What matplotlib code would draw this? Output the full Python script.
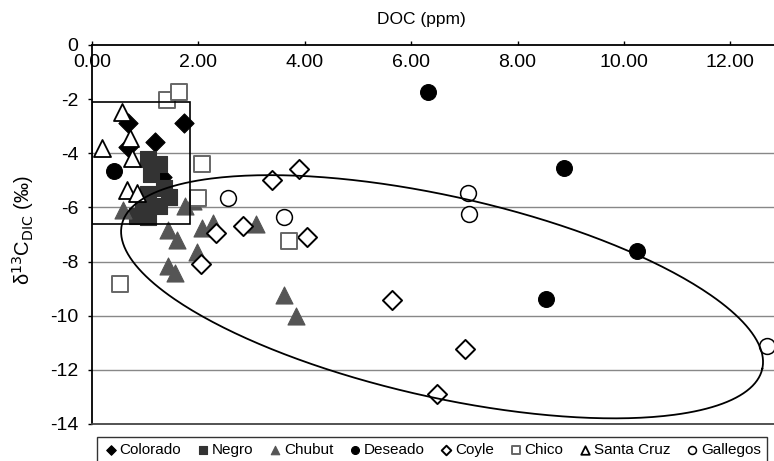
import numpy as np
import matplotlib
matplotlib.use("Agg")
import matplotlib.pyplot as plt
from matplotlib.patches import Rectangle

plt.rcParams['font.family'] = ['Liberation Sans', 'DejaVu Sans']

# DOC (ppm) and d13C-DIC (permil) per river
colorado_x = [0.68, 1.72, 1.18, 0.67, 1.31]
colorado_y = [-2.89, -2.87, -3.57, -3.75, -4.86]

negro_x = [1.05, 1.25, 1.10, 1.35, 1.05, 1.45, 0.95, 1.25, 0.85, 1.05]
negro_y = [-4.20, -4.40, -4.75, -5.30, -5.50, -5.60, -5.90, -5.95, -6.30, -6.35]

chubut_x = [0.59, 1.75, 1.90, 1.43, 1.59, 2.06, 2.28, 3.08, 1.97, 1.43, 1.56, 3.61, 3.83]
chubut_y = [-6.09, -5.95, -5.75, -6.83, -7.20, -6.76, -6.56, -6.62, -7.63, -8.18, -8.43, -9.23, -10.0]

deseado_x = [6.32, 8.87, 10.25, 8.53, 0.42]
deseado_y = [-1.72, -4.55, -7.60, -9.38, -4.64]

coyle_x = [5.64, 7.02, 6.49, 3.90, 3.39, 2.83, 2.33, 4.05, 2.05]
coyle_y = [-9.43, -11.23, -12.88, -4.58, -4.98, -6.70, -6.95, -7.11, -8.08]

chico_x = [1.40, 1.64, 2.07, 1.99, 3.71, 0.53]
chico_y = [-2.03, -1.72, -4.40, -5.66, -7.23, -8.82]

santacruz_x = [0.57, 0.18, 0.71, 0.75, 0.65, 0.84]
santacruz_y = [-2.46, -3.81, -3.44, -4.18, -5.35, -5.47]

gallegos_x = [7.07, 7.09, 12.68, 2.56, 3.61]
gallegos_y = [-5.47, -6.24, -11.13, -5.66, -6.36]

fig = plt.figure(figsize=(7.74, 4.61), dpi=100)
ax = fig.add_axes([0.1189, 0.0803, 0.8811, 0.8221])

ax.set_xlim(0, 12.82)
ax.set_ylim(-14, 0)

# horizontal grid lines
for g in [-4, -6, -8, -10, -12]:
    ax.axhline(g, color='#888888', lw=1.0, zorder=0)

ax.scatter(colorado_x, colorado_y, marker='D', s=95, c='black', edgecolors='black',
           linewidths=0.8, label='Colorado', zorder=3)
ax.scatter(negro_x, negro_y, marker='s', s=125, c='#333333', edgecolors='#333333',
           linewidths=0.8, label='Negro', zorder=3)
ax.scatter(chubut_x, chubut_y, marker='^', s=150, c='#555555', edgecolors='#555555',
           linewidths=0.8, label='Chubut', zorder=3)
ax.scatter(deseado_x, deseado_y, marker='o', s=130, c='black', edgecolors='black',
           linewidths=0.8, label='Deseado', zorder=3)
ax.scatter(coyle_x, coyle_y, marker='D', s=95, c='white', edgecolors='black',
           linewidths=1.4, label='Coyle', zorder=4)
ax.scatter(chico_x, chico_y, marker='s', s=125, c='white', edgecolors='#666666',
           linewidths=1.4, label='Chico', zorder=4)
ax.scatter(santacruz_x, santacruz_y, marker='^', s=150, c='white', edgecolors='black',
           linewidths=1.3, label='Santa Cruz', zorder=4)
ax.scatter(gallegos_x, gallegos_y, marker='o', s=130, c='white', edgecolors='black',
           linewidths=1.1, label='Gallegos', zorder=4)

# box around the northern rivers
ax.add_patch(Rectangle((0, -6.6), 1.84, 4.49, fill=False, ec='black', lw=1.2, zorder=5))

# tilted ellipse around the southern rivers
t = np.linspace(0, 2 * np.pi, 400)
cx, cy = 6.58, -9.30
ux, uy = 6.02, -2.66
vx, vy = -0.41, -3.62
ax.plot(cx + ux * np.cos(t) + vx * np.sin(t), cy + uy * np.cos(t) + vy * np.sin(t),
        color='black', lw=1.3, zorder=5, clip_on=False)

# axes styling: x axis on top with labels under the line
ax.spines['right'].set_visible(False)
ax.spines['top'].set_linewidth(1.3)
ax.spines['left'].set_linewidth(1.3)
ax.spines['bottom'].set_color('#444444')
ax.spines['bottom'].set_linewidth(1.3)

ax.set_xticks(np.arange(0, 13, 2))
ax.set_xticklabels([f'{v:.2f}' for v in np.arange(0, 13, 2)])
ax.xaxis.tick_top()
ax.tick_params(axis='x', which='major', direction='out', length=3, width=1,
               labelsize=14, pad=-22, top=True, bottom=False)
ax.set_yticks(np.arange(-14, 1, 2))
ax.set_yticklabels([str(v) for v in np.arange(-14, 1, 2)])
ax.tick_params(axis='y', direction='out', length=3, width=1, labelsize=14, pad=7)

fig.text(0.545, 0.957, 'DOC (ppm)', ha='center', va='center', fontsize=12.5)
fig.text(0.03, 0.50, 'δ$^{13}$C$_{\\mathrm{DIC}}$ (‰)', rotation=90,
         ha='center', va='center', fontsize=14.5)

leg = fig.legend(loc='lower left', bbox_to_anchor=(0.125, -0.005), ncol=8,
                 fontsize=11, frameon=True, fancybox=False, edgecolor='black',
                 handletextpad=0.1, columnspacing=0.9, handlelength=1.0,
                 borderpad=0.4, borderaxespad=0, markerscale=0.5)
leg.get_frame().set_linewidth(1.0)

fig.savefig('out.png', dpi=100)
